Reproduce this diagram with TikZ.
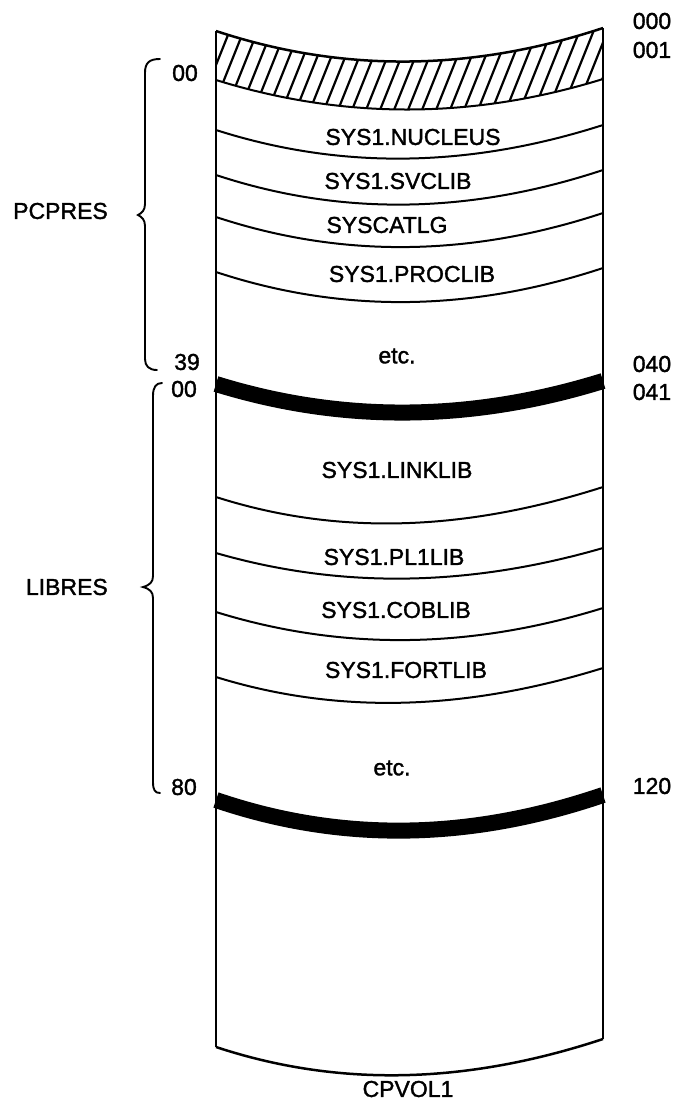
\documentclass[tikz,border=0pt]{standalone}
\usepackage{fontspec}
\setmainfont{Liberation Sans}[FakeBold=1.5]
\newcommand{\sagarc}[3]{(216,#1) .. controls (345,{#1+#3*4/3}) and (474,{#2+#3*4/3}) .. (603,#2)}
\begin{document}
\begin{tikzpicture}[x=1pt,y=-1pt,
  lbl/.style={font=\fontsize{23}{26}\selectfont, inner sep=0pt},
  outline/.style={line width=2.5pt, line join=round},
  sep/.style={line width=2pt},
  thickband/.style={line width=16pt},
  hatchline/.style={line width=2.2pt},
  bracestyle/.style={line width=1.9pt, line cap=round}]
\useasboundingbox (0,0) rectangle (678,1111);
\fill[white] (0,0) rectangle (678,1111);
% hatched top band
\begin{scope}
  \clip (216,31) .. controls (345,{31+32*4/3}) and (474,{28+32*4/3}) .. (603,28)
        -- (603,79) .. controls (474,{79+30*4/3}) and (345,{80+30*4/3}) .. (216,80) -- cycle;
  \foreach \xx in {150,164,...,640} {
    \draw[hatchline] (\xx,125) -- ({\xx+44},15);
  }
\end{scope}
% outline of the volume
\draw[outline] \sagarc{31}{28}{32};
\draw[outline] (216,31) -- (216,1047);
\draw[outline] (603,28) -- (603,1039);
\draw[outline] \sagarc{1047}{1039}{32};
% separators
\draw[sep] \sagarc{80}{79}{30};
\draw[sep] \sagarc{130}{125}{31};
\draw[sep] \sagarc{175}{170}{32};
\draw[sep] \sagarc{217}{213}{32};
\draw[sep] \sagarc{272}{268}{32};
\draw[thickband] \sagarc{384}{381}{30};
\draw[sep] \sagarc{497}{487}{31};
\draw[sep] \sagarc{553}{548}{28};
\draw[sep] \sagarc{612}{608}{30};
\draw[sep] \sagarc{677}{668}{30};
\draw[thickband] \sagarc{800}{795}{33};
% dataset names
\node[lbl] (nucleus) at (413,137) {SYS1.NUCLEUS};
\node[lbl] (svclib) at (398,181) {SYS1.SVCLIB};
\node[lbl] (syscatlg) at (387,225) {SYSCATLG};
\node[lbl] (proclib) at (412,274) {SYS1.PROCLIB};
\node[lbl] (etc1) at (397,356) {etc.};
\node[lbl] (linklib) at (397,470) {SYS1.LINKLIB};
\node[lbl] (pl1lib) at (394,557) {SYS1.PL1LIB};
\node[lbl] (coblib) at (396,610) {SYS1.COBLIB};
\node[lbl] (fortlib) at (406,670) {SYS1.FORTLIB};
\node[lbl] (etc2) at (392,768) {etc.};
\node[lbl] (cpvol) at (408,1089) {CPVOL1};
% cylinder numbers (right)
\node[lbl] (c000) at (652,21) {000};
\node[lbl] (c001) at (652,50) {001};
\node[lbl] (c040) at (652,364) {040};
\node[lbl] (c041) at (652,392) {041};
\node[lbl] (c120) at (652,786) {120};
% relative numbers (left)
\node[lbl] (p00) at (185,73) {00};
\node[lbl] (p39) at (187,362) {39};
\node[lbl] (l00) at (184,389) {00};
\node[lbl] (l80) at (184,787) {80};
% braces
\draw[bracestyle] (160,59) .. controls (149,59) and (145,63) .. (145,73) -- (145,204)
  .. controls (145,210) and (142,213) .. (138,215)
  .. controls (142,217) and (145,220) .. (145,226) -- (145,359)
  .. controls (145,366) and (149,370) .. (157,370);
\draw[bracestyle] (162,383) .. controls (156,383) and (153,387) .. (153,396) -- (153,576)
  .. controls (153,582) and (150,585) .. (143,587)
  .. controls (150,589) and (153,592) .. (153,598) -- (153,782)
  .. controls (153,790) and (155,793) .. (160,793);
\node[lbl, anchor=east] (pcpres) at (108,211) {PCPRES};
\node[lbl, anchor=east] (libres) at (108,587) {LIBRES};
\end{tikzpicture}
\end{document}
